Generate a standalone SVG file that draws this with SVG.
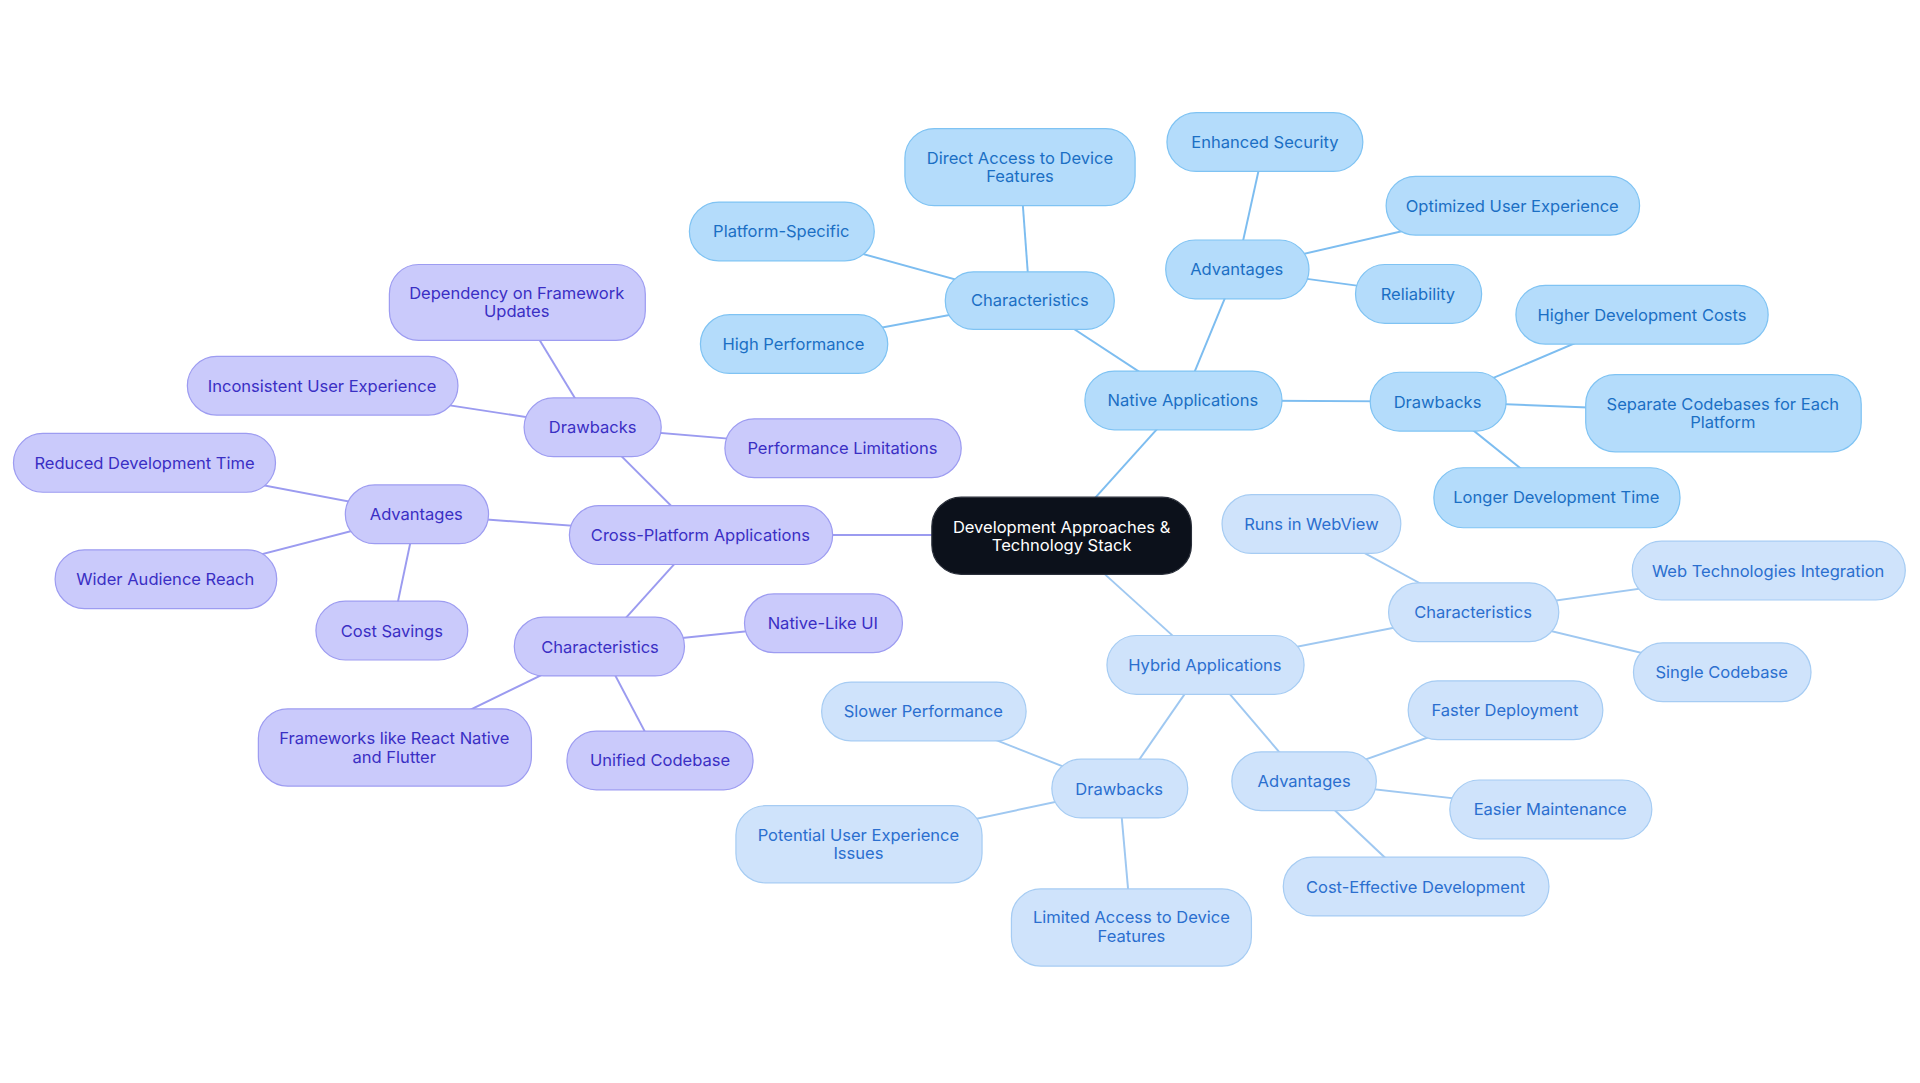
<svg xmlns="http://www.w3.org/2000/svg" width="1920" height="1083" viewBox="0 0 1920 1083">
<style>
text{font-family:Inter,"Noto Sans",sans-serif;font-size:13.5px;text-anchor:middle;dominant-baseline:central}
.n rect{fill:#b4dcfb;stroke:#7fc3f3;stroke-width:1}
.n text{fill:#1b6fc4}
.h rect{fill:#cfe3fb;stroke:#a6ccf3;stroke-width:1}
.h text{fill:#2b6fcf}
.c rect{fill:#cacafb;stroke:#9d9cf1;stroke-width:1}
.c text{fill:#3a2fc4}
.r rect{fill:#0c111b;stroke:#2a2f3a}
.r text{fill:#fff}
#edges line{stroke-width:1.6}
.en{stroke:#7dbdf0}.eh{stroke:#9fc8f1}.ec{stroke:#9b9bf0}
</style>
<rect width="1920" height="1083" fill="#fff"/>
<g transform="scale(1.22449)">
<g id="edges">
<line class="en" x1="867" y1="437" x2="966" y2="327"/>
<line class="en" x1="966" y1="327" x2="841" y2="245"/>
<line class="en" x1="841" y1="245" x2="833" y2="136"/>
<line class="en" x1="841" y1="245" x2="638" y2="189"/>
<line class="en" x1="841" y1="245" x2="648" y2="281"/>
<line class="en" x1="966" y1="327" x2="1010" y2="220"/>
<line class="en" x1="1010" y1="220" x2="1033" y2="116"/>
<line class="en" x1="1010" y1="220" x2="1235" y2="168"/>
<line class="en" x1="1010" y1="220" x2="1158" y2="240"/>
<line class="en" x1="966" y1="327" x2="1174" y2="328"/>
<line class="en" x1="1174" y1="328" x2="1341" y2="257"/>
<line class="en" x1="1174" y1="328" x2="1407" y2="337"/>
<line class="en" x1="1174" y1="328" x2="1271" y2="406"/>
<line class="eh" x1="867" y1="437" x2="984" y2="543"/>
<line class="eh" x1="984" y1="543" x2="1203" y2="500"/>
<line class="eh" x1="1203" y1="500" x2="1071" y2="428"/>
<line class="eh" x1="1203" y1="500" x2="1444" y2="466"/>
<line class="eh" x1="1203" y1="500" x2="1406" y2="549"/>
<line class="eh" x1="984" y1="543" x2="1065" y2="638"/>
<line class="eh" x1="1065" y1="638" x2="1229" y2="580"/>
<line class="eh" x1="1065" y1="638" x2="1266" y2="661"/>
<line class="eh" x1="1065" y1="638" x2="1156" y2="724"/>
<line class="eh" x1="984" y1="543" x2="914" y2="644"/>
<line class="eh" x1="914" y1="644" x2="754" y2="581"/>
<line class="eh" x1="914" y1="644" x2="701" y2="689"/>
<line class="eh" x1="914" y1="644" x2="924" y2="757"/>
<line class="ec" x1="867" y1="437" x2="572" y2="437"/>
<line class="ec" x1="572" y1="437" x2="484" y2="349"/>
<line class="ec" x1="484" y1="349" x2="422" y2="247"/>
<line class="ec" x1="484" y1="349" x2="263" y2="315"/>
<line class="ec" x1="484" y1="349" x2="688" y2="366"/>
<line class="ec" x1="572" y1="437" x2="340" y2="420"/>
<line class="ec" x1="340" y1="420" x2="118" y2="378"/>
<line class="ec" x1="340" y1="420" x2="135" y2="473"/>
<line class="ec" x1="340" y1="420" x2="320" y2="515"/>
<line class="ec" x1="572" y1="437" x2="490" y2="528"/>
<line class="ec" x1="490" y1="528" x2="672" y2="509"/>
<line class="ec" x1="490" y1="528" x2="322" y2="610"/>
<line class="ec" x1="490" y1="528" x2="539" y2="621"/>
</g>
<g id="root" class="r"><rect x="761" y="406" width="212" height="63" rx="24"/><text x="867" y="430">Development Approaches &amp;</text><text x="867" y="445">Technology Stack</text></g>
<g id="native" class="n"><rect x="886" y="303" width="161" height="48" rx="24"/><text x="966" y="327">Native Applications</text></g>
<g id="n-char" class="n"><rect x="772" y="222" width="138" height="47" rx="23"/><text x="841" y="245">Characteristics</text></g>
<g id="n-direct" class="n"><rect x="739" y="105" width="188" height="63" rx="24"/><text x="833" y="129">Direct Access to Device</text><text x="833" y="144">Features</text></g>
<g id="n-plat" class="n"><rect x="563" y="165" width="151" height="48" rx="24"/><text x="638" y="189">Platform-Specific</text></g>
<g id="n-perf" class="n"><rect x="572" y="257" width="153" height="48" rx="24"/><text x="648" y="281">High Performance</text></g>
<g id="n-adv" class="n"><rect x="952" y="196" width="117" height="48" rx="24"/><text x="1010" y="220">Advantages</text></g>
<g id="n-sec" class="n"><rect x="953" y="92" width="160" height="48" rx="24"/><text x="1033" y="116">Enhanced Security</text></g>
<g id="n-ux" class="n"><rect x="1132" y="144" width="207" height="48" rx="24"/><text x="1235" y="168">Optimized User Experience</text></g>
<g id="n-rel" class="n"><rect x="1107" y="216" width="103" height="48" rx="24"/><text x="1158" y="240">Reliability</text></g>
<g id="n-draw" class="n"><rect x="1119" y="304" width="111" height="48" rx="24"/><text x="1174" y="328">Drawbacks</text></g>
<g id="n-cost" class="n"><rect x="1238" y="233" width="206" height="48" rx="24"/><text x="1341" y="257">Higher Development Costs</text></g>
<g id="n-sep" class="n"><rect x="1295" y="306" width="225" height="63" rx="24"/><text x="1407" y="330">Separate Codebases for Each</text><text x="1407" y="345">Platform</text></g>
<g id="n-long" class="n"><rect x="1171" y="382" width="201" height="49" rx="24"/><text x="1271" y="406">Longer Development Time</text></g>
<g id="hybrid" class="h"><rect x="904" y="519" width="161" height="48" rx="24"/><text x="984" y="543">Hybrid Applications</text></g>
<g id="h-char" class="h"><rect x="1134" y="476" width="139" height="48" rx="24"/><text x="1203" y="500">Characteristics</text></g>
<g id="h-web" class="h"><rect x="998" y="404" width="146" height="48" rx="24"/><text x="1071" y="428">Runs in WebView</text></g>
<g id="h-tech" class="h"><rect x="1333" y="442" width="223" height="48" rx="24"/><text x="1444" y="466">Web Technologies Integration</text></g>
<g id="h-single" class="h"><rect x="1334" y="525" width="145" height="48" rx="24"/><text x="1406" y="549">Single Codebase</text></g>
<g id="h-adv" class="h"><rect x="1006" y="614" width="118" height="48" rx="24"/><text x="1065" y="638">Advantages</text></g>
<g id="h-fast" class="h"><rect x="1150" y="556" width="159" height="48" rx="24"/><text x="1229" y="580">Faster Deployment</text></g>
<g id="h-easy" class="h"><rect x="1184" y="637" width="165" height="48" rx="24"/><text x="1266" y="661">Easier Maintenance</text></g>
<g id="h-costeff" class="h"><rect x="1048" y="700" width="217" height="48" rx="24"/><text x="1156" y="724">Cost-Effective Development</text></g>
<g id="h-draw" class="h"><rect x="859" y="620" width="111" height="48" rx="24"/><text x="914" y="644">Drawbacks</text></g>
<g id="h-slow" class="h"><rect x="671" y="557" width="167" height="48" rx="24"/><text x="754" y="581">Slower Performance</text></g>
<g id="h-pux" class="h"><rect x="601" y="658" width="201" height="63" rx="24"/><text x="701" y="682">Potential User Experience</text><text x="701" y="697">Issues</text></g>
<g id="h-lim" class="h"><rect x="826" y="726" width="196" height="63" rx="24"/><text x="924" y="749">Limited Access to Device</text><text x="924" y="764">Features</text></g>
<g id="cross" class="c"><rect x="465" y="413" width="215" height="48" rx="24"/><text x="572" y="437">Cross-Platform Applications</text></g>
<g id="c-draw" class="c"><rect x="428" y="325" width="112" height="48" rx="24"/><text x="484" y="349">Drawbacks</text></g>
<g id="c-dep" class="c"><rect x="318" y="216" width="209" height="62" rx="24"/><text x="422" y="239">Dependency on Framework</text><text x="422" y="254">Updates</text></g>
<g id="c-inc" class="c"><rect x="153" y="291" width="221" height="48" rx="24"/><text x="263" y="315">Inconsistent User Experience</text></g>
<g id="c-perf" class="c"><rect x="592" y="342" width="193" height="48" rx="24"/><text x="688" y="366">Performance Limitations</text></g>
<g id="c-adv" class="c"><rect x="282" y="396" width="117" height="48" rx="24"/><text x="340" y="420">Advantages</text></g>
<g id="c-red" class="c"><rect x="11" y="354" width="214" height="48" rx="24"/><text x="118" y="378">Reduced Development Time</text></g>
<g id="c-wide" class="c"><rect x="45" y="449" width="181" height="48" rx="24"/><text x="135" y="473">Wider Audience Reach</text></g>
<g id="c-save" class="c"><rect x="258" y="491" width="124" height="48" rx="24"/><text x="320" y="515">Cost Savings</text></g>
<g id="c-char" class="c"><rect x="420" y="504" width="139" height="48" rx="24"/><text x="490" y="528">Characteristics</text></g>
<g id="c-nat" class="c"><rect x="608" y="485" width="129" height="48" rx="24"/><text x="672" y="509">Native-Like UI</text></g>
<g id="c-fw" class="c"><rect x="211" y="579" width="223" height="63" rx="24"/><text x="322" y="603">Frameworks like React Native</text><text x="322" y="618">and Flutter</text></g>
<g id="c-uni" class="c"><rect x="463" y="597" width="152" height="48" rx="24"/><text x="539" y="621">Unified Codebase</text></g>
</g>
</svg>
